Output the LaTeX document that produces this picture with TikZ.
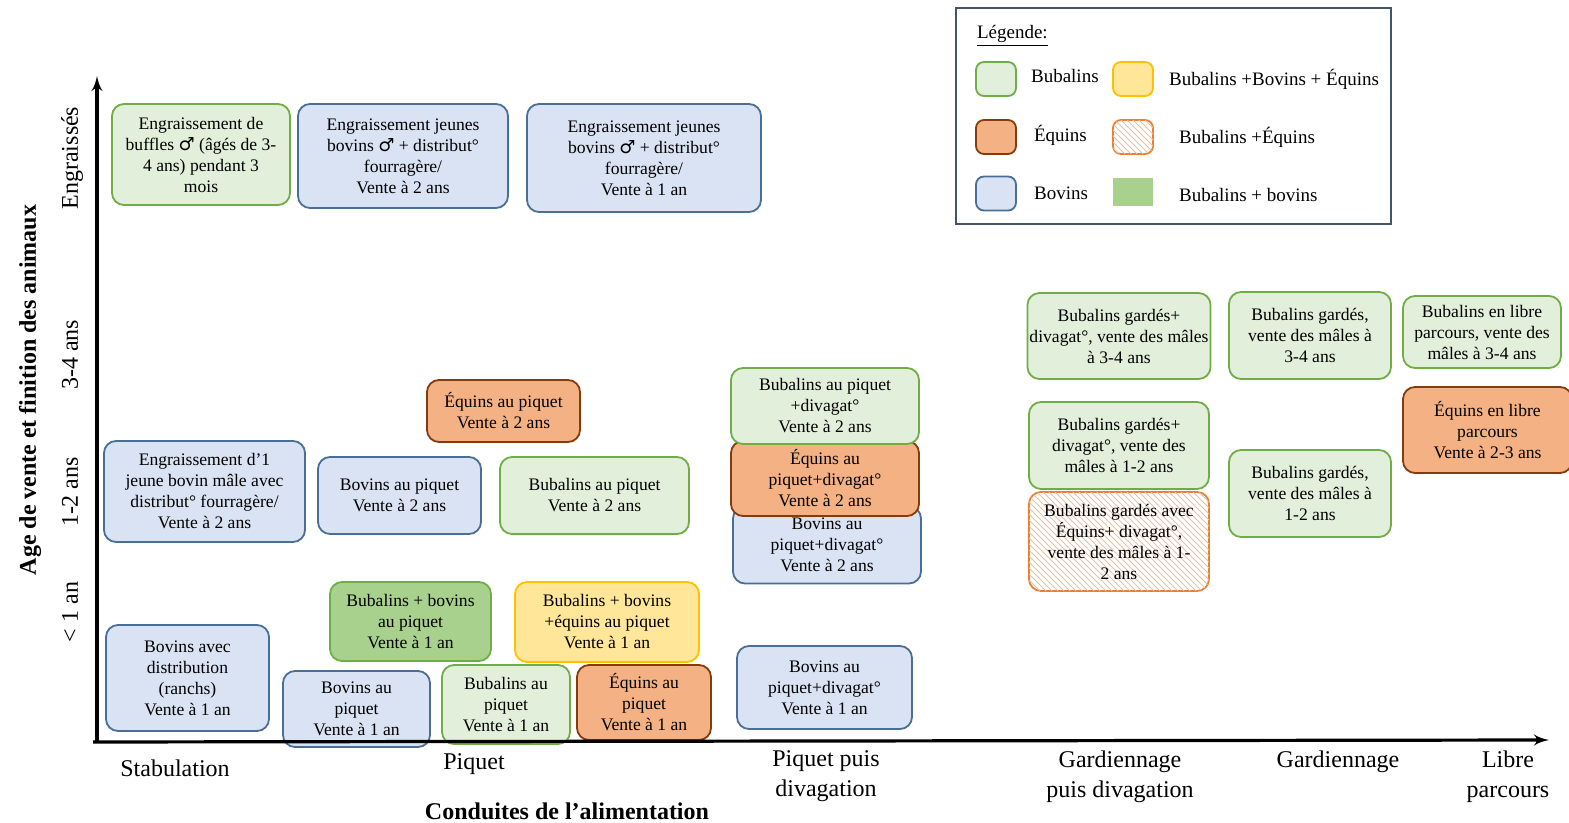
\documentclass[tikz,border=0pt]{standalone}
\usepackage{fontspec}
\setmainfont{Liberation Serif}
\newfontfamily\symfont{DejaVu Sans}
\usepackage{xcolor}
\usepackage{tikz}
\usetikzlibrary{arrows}
\usetikzlibrary{patterns}
\definecolor{bubfill}{HTML}{E2EFDA}
\definecolor{bubline}{HTML}{70AD47}
\definecolor{bovfill}{HTML}{DAE3F3}
\definecolor{bovline}{HTML}{4A6F96}
\definecolor{equfill}{HTML}{F4B183}
\definecolor{equline}{HTML}{843C0C}
\definecolor{allfill}{HTML}{FFE699}
\definecolor{allline}{HTML}{FFC000}
\definecolor{mixfill}{HTML}{A9D18E}
\definecolor{hatline}{HTML}{ED7D31}
\definecolor{legline}{HTML}{44546A}
\tikzset{edge/.style = {->,> = latex', line width=1.6pt}}
\newcommand{\male}{{\symfont\small ♂}}

\begin{document}
\begin{tikzpicture}[x=0.5pt,y=-0.5pt,
  box node/.style={rounded corners=6pt,line width=0.9pt,align=center,inner sep=1pt,font=\fontsize{8.8}{10.5}\selectfont},
  bub node/.style={box node,draw=bubline,fill=bubfill},
  bov node/.style={box node,draw=bovline,fill=bovfill},
  equ node/.style={box node,draw=equline,fill=equfill},
  all node/.style={box node,draw=allline,fill=allfill},
  mix node/.style={box node,draw=bubline,fill=mixfill},
  hatch node/.style={box node,draw=hatline,fill=white,postaction={pattern=north west lines,pattern color=brown!45}},
  leg text/.style={anchor=west,font=\fontsize{9.5}{11}\selectfont},
  axis text/.style={align=center,font=\fontsize{12}{15}\selectfont},
  title text/.style={font=\bfseries\fontsize{12}{15}\selectfont}]
\useasboundingbox[fill=white] (0,0) rectangle (1569,823);

% engraisses
\node[bub node,minimum width=89pt,minimum height=50.5pt] (e1) at (201,154.5) {Engraissement de\\buffles \male{} (âgés de 3-\\4 ans) pendant 3\\mois};
\node[bov node,minimum width=105pt,minimum height=52pt] (e2) at (403,156) {Engraissement jeunes\\bovins \male{} + distribut°\\fourragère/\\Vente à 2 ans};
\node[bov node,minimum width=117pt,minimum height=54pt] (e3) at (644,158) {Engraissement jeunes\\bovins \male{} + distribut°\\fourragère/\\Vente à 1 an};

% legende
\node[draw=legline,line width=1pt,minimum width=217.5pt,minimum height=108pt] (leg) at (1173.5,116) {};
\node[leg text] (legt) at (970,36) {\underline{Légende:}};
\node[bub node,minimum width=20pt,minimum height=17pt,rounded corners=4pt] (l1) at (996,79) {};
\node[all node,minimum width=20pt,minimum height=17pt,rounded corners=4pt] (l2) at (1133,79) {};
\node[equ node,minimum width=20pt,minimum height=17pt,rounded corners=4pt] (l3) at (996,137) {};
\node[hatch node,minimum width=20pt,minimum height=17pt,rounded corners=4pt] (l4) at (1133,137) {};
\node[bov node,minimum width=20pt,minimum height=17pt,rounded corners=4pt] (l5) at (996,193.5) {};
\node[fill=mixfill,minimum width=20pt,minimum height=14pt,inner sep=0pt] (l6) at (1133,192) {};
\node[leg text] at (1024,76) {Bubalins};
\node[leg text] at (1162,79) {Bubalins +Bovins + Équins};
\node[leg text] at (1027,135) {Équins};
\node[leg text] at (1172,137) {Bubalins +Équins};
\node[leg text] at (1027,193) {Bovins};
\node[leg text] at (1172,195) {Bubalins + bovins};

% 1-2 ans
\node[bov node,minimum width=100.5pt,minimum height=50.5pt] (m1) at (204.5,491.5) {Engraissement d’1\\jeune bovin mâle avec\\distribut° fourragère/\\Vente à 2 ans};
\node[equ node,minimum width=76.5pt,minimum height=31pt] (m2) at (503.5,411) {Équins au piquet\\Vente à 2 ans};
\node[bov node,minimum width=81.5pt,minimum height=38.5pt] (m3) at (399.5,495.5) {Bovins au piquet\\Vente à 2 ans};
\node[bub node,minimum width=94.5pt,minimum height=38.5pt] (m4) at (594.5,495.5) {Bubalins au piquet\\Vente à 2 ans};
\node[bov node,minimum width=94pt,minimum height=38.5pt] (m7) at (827,545) {Bovins au\\piquet+divagat°\\Vente à 2 ans};
\node[equ node,minimum width=94pt,minimum height=37.5pt] (m6) at (825,478.5) {Équins au\\piquet+divagat°\\Vente à 2 ans};
\node[bub node,minimum width=94pt,minimum height=38pt] (m5) at (825,406) {Bubalins au piquet\\+divagat°\\Vente à 2 ans};

% moins de 1 an
\node[bov node,minimum width=81.5pt,minimum height=53pt] (s1) at (187.5,678) {Bovins avec\\distribution\\(ranchs)\\Vente à 1 an};
\node[mix node,minimum width=80.5pt,minimum height=39.5pt] (s2) at (410.5,621.5) {Bubalins + bovins\\au piquet\\Vente à 1 an};
\node[all node,minimum width=92pt,minimum height=40pt] (s3) at (607,622) {Bubalins + bovins\\+équins au piquet\\Vente à 1 an};
\node[bov node,minimum width=73.5pt,minimum height=38pt] (s4) at (356.5,709) {Bovins au\\piquet\\Vente à 1 an};
\node[bub node,minimum width=64pt,minimum height=39.5pt] (s5) at (506,704.5) {Bubalins au\\piquet\\Vente à 1 an};
\node[equ node,minimum width=67pt,minimum height=37.5pt] (s6) at (644,702.5) {Équins au\\piquet\\Vente à 1 an};
\node[bov node,minimum width=87.5pt,minimum height=41.5pt] (s7) at (824.5,687.5) {Bovins au\\piquet+divagat°\\Vente à 1 an};

% gardiennage et libre parcours
\node[bub node,minimum width=90pt,minimum height=43pt] (g1) at (1119,336) {Bubalins gardés+\\divagat°, vente des mâles\\à 3-4 ans};
\node[bub node,minimum width=81pt,minimum height=43.5pt] (g2) at (1310,335.5) {Bubalins gardés,\\vente des mâles à\\3-4 ans};
\node[bub node,minimum width=79pt,minimum height=36pt] (g3) at (1482,332) {Bubalins en libre\\parcours, vente des\\mâles à 3-4 ans};
\node[equ node,minimum width=84.5pt,minimum height=43pt] (g4) at (1487.5,430) {Équins en libre\\parcours\\Vente à 2-3 ans};
\node[bub node,minimum width=90pt,minimum height=43.5pt] (g5) at (1119,445.5) {Bubalins gardés+\\divagat°, vente des\\mâles à 1-2 ans};
\node[hatch node,minimum width=90pt,minimum height=49.5pt] (g6) at (1119,541.5) {Bubalins gardés avec\\Équins+ divagat°,\\vente des mâles à 1-\\2 ans};
\node[bub node,minimum width=81pt,minimum height=43.5pt] (g7) at (1310,493.5) {Bubalins gardés,\\vente des mâles à\\1-2 ans};

% axes
\coordinate (o) at (97,742);
\coordinate (xo) at (93,742);
\coordinate (ytop) at (97,76);
\coordinate (xend) at (1549,740);
\draw[edge] (o) -- (ytop);
\draw[edge] (xo) -- (xend);

\node[axis text,rotate=90] (y1) at (72,158) {Engraissés};
\node[axis text,rotate=90] (y2) at (70,355) {3-4 ans};
\node[axis text,rotate=90] (y3) at (70,492) {1-2 ans};
\node[axis text,rotate=90] (y4) at (70,612) {< 1 an};
\node[title text,rotate=90] (ytitle) at (30,390) {Age de vente et finition des animaux};

\node[axis text] (x1) at (175,768) {Stabulation};
\node[axis text] (x2) at (474,764) {Piquet};
\node[axis text] (x3) at (826,776) {Piquet puis\\divagation};
\node[axis text] (x4) at (1120,777) {Gardiennage\\puis divagation};
\node[axis text] (x5) at (1338,762) {Gardiennage};
\node[axis text] (x6) at (1508,777) {Libre\\parcours};
\node[title text] (xtitle) at (567,811) {Conduites de l’alimentation};
\end{tikzpicture}
\end{document}
